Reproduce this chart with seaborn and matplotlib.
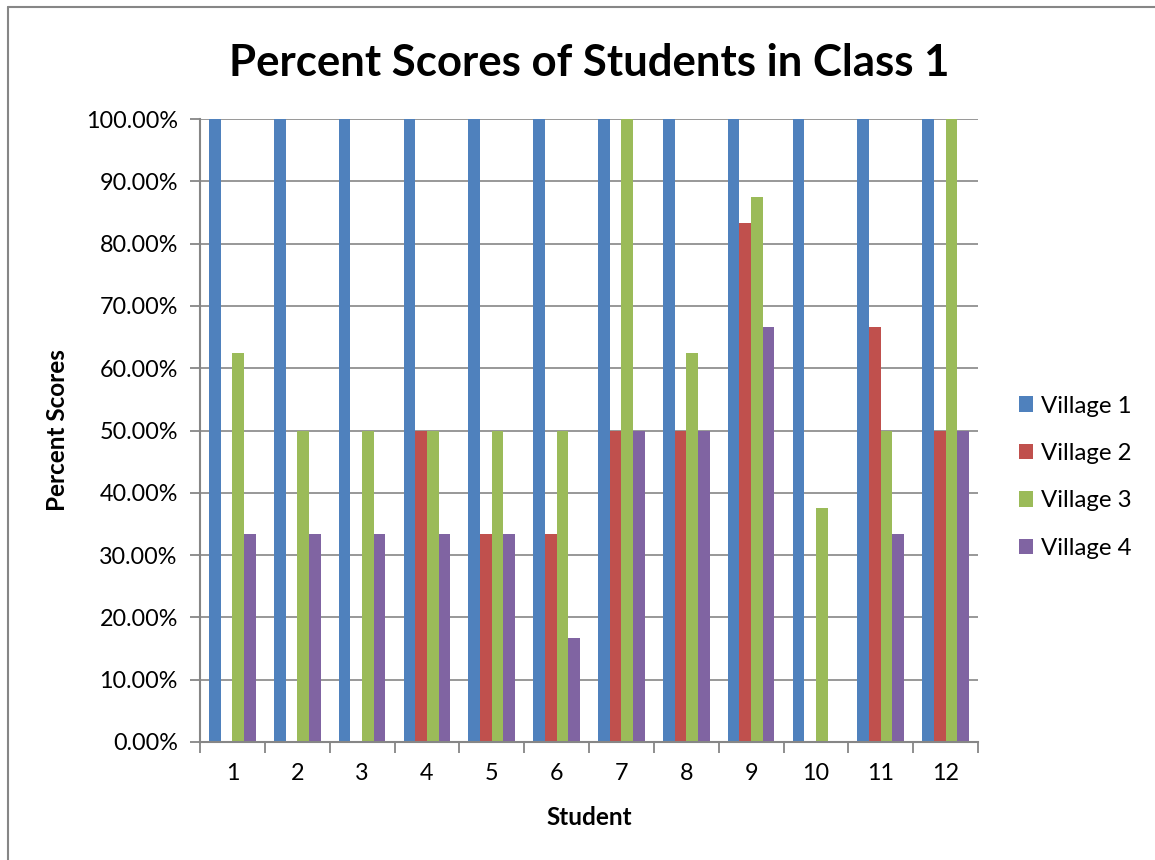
import numpy as np
import pandas as pd
import matplotlib
matplotlib.use("Agg")
import matplotlib.pyplot as plt
from matplotlib.lines import Line2D
from matplotlib.ticker import FuncFormatter, FixedLocator
import seaborn as sns

students = [str(i) for i in range(1, 13)]
series_names = ["Village 1", "Village 2", "Village 3", "Village 4"]
village1 = [100, 100, 100, 100, 100, 100, 100, 100, 100, 100, 100, 100]
village2 = [0, 0, 0, 50, 33.33, 33.33, 50, 50, 83.33, 0, 66.67, 50]
village3 = [62.5, 50, 50, 50, 50, 50, 100, 62.5, 87.5, 37.5, 50, 100]
village4 = [33.33, 33.33, 33.33, 33.33, 33.33, 16.67, 50, 50, 66.67, 0, 33.33, 50]
colors = ["#4F81BD", "#C0504D", "#9BBB59", "#8064A2"]

rows = []
for name, vals in zip(series_names, [village1, village2, village3, village4]):
    for s, v in zip(students, vals):
        rows.append({"Student": s, "Village": name, "Score": v})
df = pd.DataFrame(rows)

sns.set_theme(style="white")
plt.rcParams['font.family'] = ['Lato', 'DejaVu Sans']
plt.rcParams['text.color'] = 'black'
plt.rcParams['axes.labelcolor'] = 'black'

W, H = 1155, 860
fig = plt.figure(figsize=(W / 100, H / 100), dpi=100)
L, R, T, B = 200, 978, 119, 742
ax = fig.add_axes([L / W, 1 - B / H, (R - L) / W, (B - T) / H])

sns.barplot(data=df, x="Student", y="Score", hue="Village", order=students,
            hue_order=series_names, palette=colors, width=0.72, linewidth=0,
            saturation=1, errorbar=None, ax=ax, legend=True)

ax.set_ylim(0, 100)
ax.set_xlim(-0.5, 11.5)
ax.set_yticks(np.arange(0, 101, 10))
ax.yaxis.set_major_formatter(FuncFormatter(lambda v, p: f"{v:.2f}%"))
ax.yaxis.grid(True, color="#868686", linewidth=1.2)
ax.set_axisbelow(True)
for side in ["top", "right"]:
    ax.spines[side].set_visible(False)
for side in ["left", "bottom"]:
    ax.spines[side].set_color("#868686")
    ax.spines[side].set_linewidth(1.5)
ax.tick_params(axis="y", which="major", direction="out", length=7, width=1.3,
               color="#868686", labelsize=16.8, labelcolor="black", pad=9, left=True)
ax.xaxis.set_minor_locator(FixedLocator(np.arange(-0.5, 12, 1)))
ax.tick_params(axis="x", which="minor", direction="out", length=8, width=1.3,
               color="#868686", bottom=True)
ax.tick_params(axis="x", which="major", length=0, labelsize=16.8, labelcolor="black", pad=15)

ax.set_xlabel("Student", fontsize=17.5, fontweight="bold", labelpad=16, color="black")
ax.set_ylabel("Percent Scores", fontsize=17.5, fontweight="bold", labelpad=12, color="black")
ax.set_title("Percent Scores of Students in Class 1", fontsize=31.5, fontweight="bold",
             pad=31, color="black")

leg = ax.legend(loc="center left", bbox_to_anchor=(1.025, 0.425), frameon=False,
                fontsize=17.3, handlelength=0.6, handleheight=0.6, handletextpad=0.3,
                labelspacing=1.1)
for t in leg.get_texts():
    t.set_color("black")

fig.add_artist(Line2D([8 / W, 8 / W], [0, 1 - 7 / H], color="#868686", linewidth=1.5))
fig.add_artist(Line2D([8 / W, 1], [1 - 7 / H, 1 - 7 / H], color="#868686", linewidth=1.5))

fig.savefig("out.png", dpi=100, facecolor="white")
